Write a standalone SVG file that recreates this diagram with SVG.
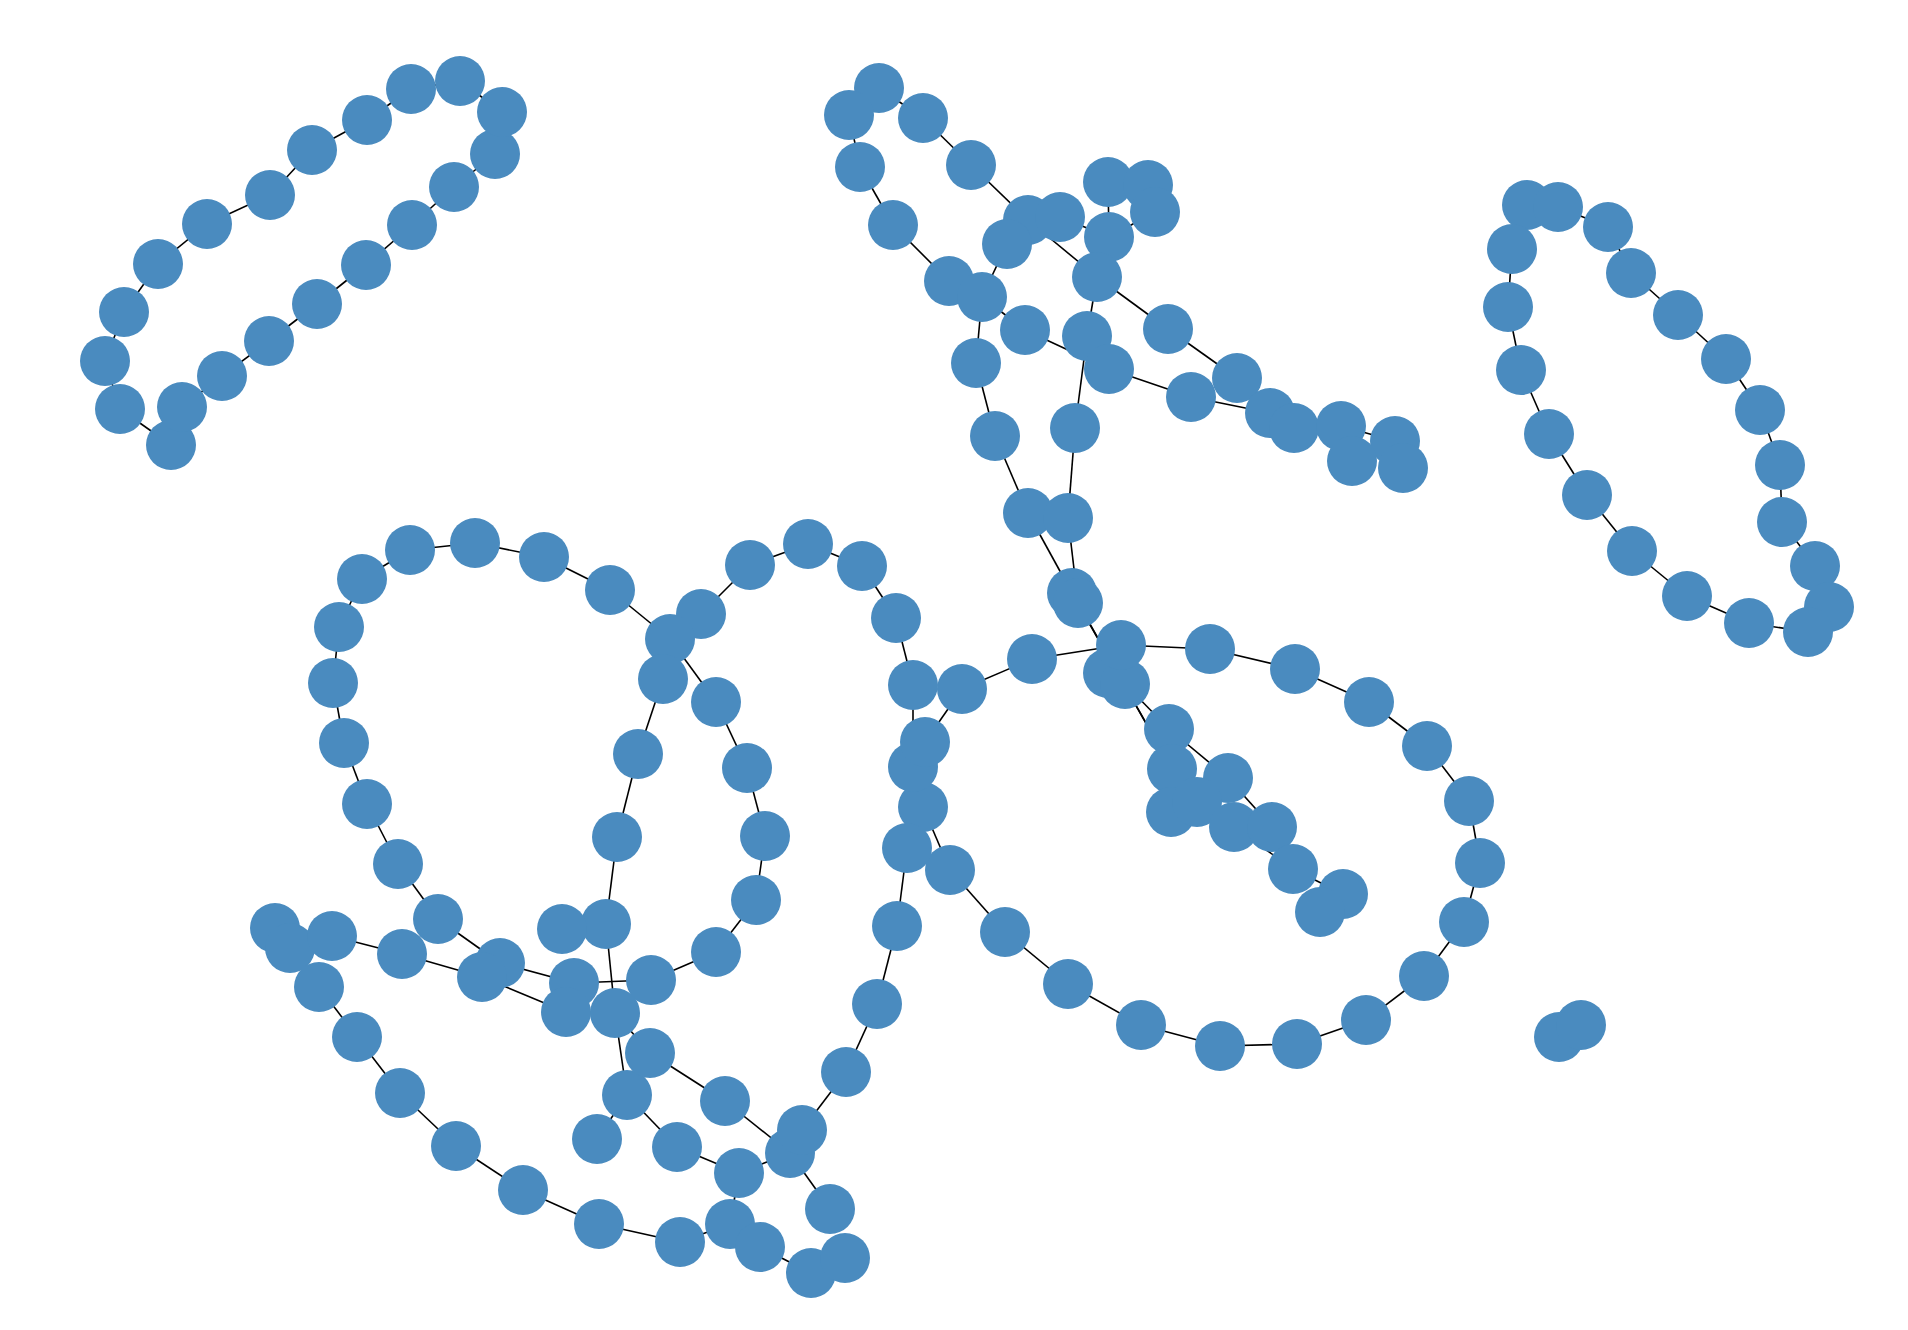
<svg xmlns="http://www.w3.org/2000/svg" width="1908" height="1330" viewBox="0 0 1908 1330">
<style>
.e line{stroke:#000;stroke-width:1.6;stroke-linecap:butt}
.n circle{fill:#4a8bbf}
</style>
<rect width="1908" height="1330" fill="#fff"/>
<g id="edges" class="e">
<line x1="460" y1="81" x2="411" y2="89"/><line x1="411" y1="89" x2="367" y2="120"/><line x1="367" y1="120" x2="312" y2="150"/><line x1="312" y1="150" x2="270" y2="195"/><line x1="270" y1="195" x2="207" y2="224"/><line x1="207" y1="224" x2="158" y2="264"/><line x1="158" y1="264" x2="124" y2="312"/><line x1="124" y1="312" x2="105" y2="361"/><line x1="105" y1="361" x2="120" y2="409"/><line x1="120" y1="409" x2="171" y2="445"/><line x1="171" y1="445" x2="182" y2="407"/><line x1="182" y1="407" x2="222" y2="376"/><line x1="222" y1="376" x2="269" y2="341"/><line x1="269" y1="341" x2="317" y2="304"/><line x1="317" y1="304" x2="366" y2="265"/><line x1="366" y1="265" x2="412" y2="225"/><line x1="412" y1="225" x2="454" y2="187"/><line x1="454" y1="187" x2="495" y2="154"/><line x1="495" y1="154" x2="502" y2="112"/><line x1="502" y1="112" x2="460" y2="81"/>
<line x1="1527" y1="205" x2="1558" y2="207"/><line x1="1558" y1="207" x2="1608" y2="227"/><line x1="1608" y1="227" x2="1631" y2="273"/><line x1="1631" y1="273" x2="1678" y2="315"/><line x1="1678" y1="315" x2="1726" y2="359"/><line x1="1726" y1="359" x2="1760" y2="410"/><line x1="1760" y1="410" x2="1780" y2="465"/><line x1="1780" y1="465" x2="1782" y2="522"/><line x1="1782" y1="522" x2="1815" y2="566"/><line x1="1815" y1="566" x2="1829" y2="607"/><line x1="1829" y1="607" x2="1808" y2="632"/><line x1="1808" y1="632" x2="1749" y2="623"/><line x1="1749" y1="623" x2="1687" y2="596"/><line x1="1687" y1="596" x2="1632" y2="551"/><line x1="1632" y1="551" x2="1587" y2="495"/><line x1="1587" y1="495" x2="1549" y2="434"/><line x1="1549" y1="434" x2="1521" y2="370"/><line x1="1521" y1="370" x2="1508" y2="307"/><line x1="1508" y1="307" x2="1512" y2="249"/><line x1="1512" y1="249" x2="1527" y2="205"/>
<line x1="1559" y1="1037" x2="1581" y2="1025"/>
<line x1="879" y1="88" x2="849" y2="115"/><line x1="879" y1="88" x2="923" y2="118"/><line x1="849" y1="115" x2="860" y2="167"/><line x1="923" y1="118" x2="971" y2="165"/><line x1="860" y1="167" x2="893" y2="225"/><line x1="971" y1="165" x2="1028" y2="220"/><line x1="893" y1="225" x2="949" y2="281"/><line x1="949" y1="281" x2="982" y2="297"/><line x1="1028" y1="220" x2="1060" y2="217"/><line x1="1028" y1="220" x2="1007" y2="244"/><line x1="1007" y1="244" x2="982" y2="297"/><line x1="1028" y1="220" x2="1097" y2="277"/><line x1="1060" y1="217" x2="1109" y2="237"/><line x1="1109" y1="237" x2="1108" y2="182"/><line x1="1108" y1="182" x2="1148" y2="185"/><line x1="1148" y1="185" x2="1155" y2="212"/><line x1="1155" y1="212" x2="1109" y2="237"/><line x1="1109" y1="237" x2="1097" y2="277"/><line x1="1097" y1="277" x2="1168" y2="329"/><line x1="1168" y1="329" x2="1237" y2="378"/><line x1="1097" y1="277" x2="1087" y2="336"/><line x1="1087" y1="336" x2="1109" y2="369"/><line x1="1025" y1="330" x2="1109" y2="369"/><line x1="982" y1="297" x2="1025" y2="330"/><line x1="1109" y1="369" x2="1191" y2="397"/><line x1="1191" y1="397" x2="1270" y2="413"/><line x1="1237" y1="378" x2="1270" y2="413"/><line x1="1270" y1="413" x2="1294" y2="428"/><line x1="1294" y1="428" x2="1341" y2="426"/><line x1="1341" y1="426" x2="1395" y2="441"/><line x1="1395" y1="441" x2="1403" y2="468"/><line x1="1341" y1="426" x2="1352" y2="461"/><line x1="1087" y1="336" x2="1075" y2="428"/><line x1="1075" y1="428" x2="1068" y2="518"/><line x1="982" y1="297" x2="976" y2="363"/><line x1="976" y1="363" x2="995" y2="436"/><line x1="995" y1="436" x2="1028" y2="513"/><line x1="1028" y1="513" x2="1072" y2="593"/><line x1="1068" y1="518" x2="1078" y2="603"/><line x1="1072" y1="593" x2="1078" y2="603"/>
<line x1="1032" y1="659" x2="1121" y2="645"/><line x1="1121" y1="645" x2="1108" y2="673"/><line x1="1108" y1="673" x2="1125" y2="684"/><line x1="1125" y1="684" x2="1169" y2="729"/><line x1="1169" y1="729" x2="1228" y2="778"/><line x1="1169" y1="729" x2="1172" y2="769"/><line x1="1072" y1="593" x2="1172" y2="769"/><line x1="1078" y1="603" x2="1172" y2="769"/><line x1="1172" y1="769" x2="1171" y2="812"/><line x1="1171" y1="812" x2="1197" y2="802"/><line x1="1197" y1="802" x2="1234" y2="827"/><line x1="1228" y1="778" x2="1272" y2="827"/><line x1="1234" y1="827" x2="1272" y2="827"/><line x1="1234" y1="827" x2="1293" y2="869"/><line x1="1293" y1="869" x2="1343" y2="894"/><line x1="1343" y1="894" x2="1320" y2="912"/><line x1="1121" y1="645" x2="1210" y2="649"/><line x1="1210" y1="649" x2="1295" y2="669"/><line x1="1295" y1="669" x2="1369" y2="702"/><line x1="1369" y1="702" x2="1427" y2="746"/>
<line x1="1427" y1="746" x2="1469" y2="801"/><line x1="1469" y1="801" x2="1480" y2="863"/><line x1="1480" y1="863" x2="1464" y2="922"/><line x1="1464" y1="922" x2="1424" y2="976"/><line x1="1424" y1="976" x2="1366" y2="1020"/><line x1="1366" y1="1020" x2="1297" y2="1044"/><line x1="1297" y1="1044" x2="1220" y2="1046"/><line x1="1220" y1="1046" x2="1141" y2="1025"/><line x1="1141" y1="1025" x2="1068" y2="984"/><line x1="1068" y1="984" x2="1005" y2="932"/><line x1="1005" y1="932" x2="950" y2="870"/><line x1="950" y1="870" x2="923" y2="807"/><line x1="923" y1="807" x2="913" y2="767"/><line x1="913" y1="767" x2="925" y2="742"/><line x1="925" y1="742" x2="962" y2="689"/><line x1="962" y1="689" x2="1032" y2="659"/><line x1="913" y1="685" x2="913" y2="767"/><line x1="907" y1="848" x2="923" y2="807"/><line x1="907" y1="848" x2="897" y2="926"/><line x1="913" y1="685" x2="896" y2="618"/>
<line x1="896" y1="618" x2="862" y2="566"/><line x1="862" y1="566" x2="808" y2="544"/><line x1="808" y1="544" x2="750" y2="565"/><line x1="750" y1="565" x2="701" y2="614"/><line x1="701" y1="614" x2="670" y2="639"/><line x1="670" y1="639" x2="610" y2="590"/><line x1="610" y1="590" x2="544" y2="557"/><line x1="544" y1="557" x2="475" y2="543"/><line x1="475" y1="543" x2="410" y2="550"/><line x1="410" y1="550" x2="362" y2="579"/><line x1="362" y1="579" x2="339" y2="627"/><line x1="339" y1="627" x2="333" y2="683"/><line x1="333" y1="683" x2="344" y2="743"/><line x1="344" y1="743" x2="367" y2="804"/><line x1="367" y1="804" x2="398" y2="864"/><line x1="398" y1="864" x2="438" y2="919"/><line x1="438" y1="919" x2="500" y2="963"/><line x1="500" y1="963" x2="574" y2="983"/><line x1="574" y1="983" x2="651" y2="980"/><line x1="651" y1="980" x2="716" y2="952"/><line x1="716" y1="952" x2="756" y2="900"/><line x1="756" y1="900" x2="765" y2="836"/><line x1="765" y1="836" x2="747" y2="768"/><line x1="747" y1="768" x2="716" y2="702"/><line x1="716" y1="702" x2="670" y2="639"/><line x1="670" y1="639" x2="663" y2="679"/><line x1="663" y1="679" x2="638" y2="754"/><line x1="638" y1="754" x2="617" y2="837"/><line x1="617" y1="837" x2="606" y2="924"/><line x1="606" y1="924" x2="562" y2="929"/><line x1="606" y1="924" x2="615" y2="1013"/><line x1="615" y1="1013" x2="566" y2="1012"/><line x1="566" y1="1012" x2="574" y2="983"/><line x1="566" y1="1012" x2="482" y2="977"/><line x1="482" y1="977" x2="500" y2="963"/><line x1="482" y1="977" x2="402" y2="954"/><line x1="402" y1="954" x2="332" y2="936"/><line x1="332" y1="936" x2="290" y2="948"/><line x1="290" y1="948" x2="275" y2="928"/><line x1="290" y1="948" x2="319" y2="987"/><line x1="319" y1="987" x2="357" y2="1037"/><line x1="357" y1="1037" x2="400" y2="1093"/><line x1="400" y1="1093" x2="456" y2="1146"/><line x1="456" y1="1146" x2="523" y2="1190"/><line x1="523" y1="1190" x2="599" y2="1224"/><line x1="599" y1="1224" x2="680" y2="1242"/><line x1="680" y1="1242" x2="730" y2="1224"/><line x1="730" y1="1224" x2="739" y2="1173"/><line x1="730" y1="1224" x2="760" y2="1247"/><line x1="760" y1="1247" x2="811" y2="1273"/><line x1="811" y1="1273" x2="845" y2="1258"/><line x1="739" y1="1173" x2="677" y2="1147"/><line x1="677" y1="1147" x2="627" y2="1095"/><line x1="627" y1="1095" x2="597" y2="1139"/><line x1="627" y1="1095" x2="615" y2="1013"/><line x1="615" y1="1013" x2="650" y2="1053"/><line x1="650" y1="1053" x2="725" y2="1101"/><line x1="725" y1="1101" x2="790" y2="1153"/><line x1="790" y1="1153" x2="739" y2="1173"/><line x1="790" y1="1153" x2="802" y2="1130"/><line x1="802" y1="1130" x2="846" y2="1072"/><line x1="846" y1="1072" x2="877" y2="1004"/><line x1="877" y1="1004" x2="897" y2="926"/><line x1="790" y1="1153" x2="830" y2="1209"/>
</g>
<g class="n">
<g id="a1"><circle cx="460" cy="81" r="25"/></g><g id="a2"><circle cx="411" cy="89" r="25"/></g><g id="a3"><circle cx="367" cy="120" r="25"/></g><g id="a4"><circle cx="312" cy="150" r="25"/></g><g id="a5"><circle cx="270" cy="195" r="25"/></g><g id="a6"><circle cx="207" cy="224" r="25"/></g><g id="a7"><circle cx="158" cy="264" r="25"/></g><g id="a8"><circle cx="124" cy="312" r="25"/></g><g id="a9"><circle cx="105" cy="361" r="25"/></g><g id="a10"><circle cx="120" cy="409" r="25"/></g><g id="a11"><circle cx="171" cy="445" r="25"/></g><g id="a12"><circle cx="182" cy="407" r="25"/></g><g id="a13"><circle cx="222" cy="376" r="25"/></g><g id="a14"><circle cx="269" cy="341" r="25"/></g><g id="a15"><circle cx="317" cy="304" r="25"/></g><g id="a16"><circle cx="366" cy="265" r="25"/></g><g id="a17"><circle cx="412" cy="225" r="25"/></g><g id="a18"><circle cx="454" cy="187" r="25"/></g><g id="a19"><circle cx="495" cy="154" r="25"/></g><g id="a20"><circle cx="502" cy="112" r="25"/></g>
<g id="b1"><circle cx="1527" cy="205" r="25"/></g><g id="b2"><circle cx="1558" cy="207" r="25"/></g><g id="b3"><circle cx="1608" cy="227" r="25"/></g><g id="b4"><circle cx="1631" cy="273" r="25"/></g><g id="b5"><circle cx="1678" cy="315" r="25"/></g><g id="b6"><circle cx="1726" cy="359" r="25"/></g><g id="b7"><circle cx="1760" cy="410" r="25"/></g><g id="b8"><circle cx="1780" cy="465" r="25"/></g><g id="b9"><circle cx="1782" cy="522" r="25"/></g><g id="b10"><circle cx="1815" cy="566" r="25"/></g><g id="b11"><circle cx="1829" cy="607" r="25"/></g><g id="b12"><circle cx="1808" cy="632" r="25"/></g><g id="b13"><circle cx="1749" cy="623" r="25"/></g><g id="b14"><circle cx="1687" cy="596" r="25"/></g><g id="b15"><circle cx="1632" cy="551" r="25"/></g><g id="b16"><circle cx="1587" cy="495" r="25"/></g><g id="b17"><circle cx="1549" cy="434" r="25"/></g><g id="b18"><circle cx="1521" cy="370" r="25"/></g><g id="b19"><circle cx="1508" cy="307" r="25"/></g><g id="b20"><circle cx="1512" cy="249" r="25"/></g>
<g id="p1"><circle cx="1559" cy="1037" r="25"/></g><g id="p2"><circle cx="1581" cy="1025" r="25"/></g>
<g id="t1"><circle cx="879" cy="88" r="25"/></g><g id="t2"><circle cx="849" cy="115" r="25"/></g><g id="t3"><circle cx="923" cy="118" r="25"/></g><g id="t4"><circle cx="860" cy="167" r="25"/></g><g id="t5"><circle cx="971" cy="165" r="25"/></g><g id="t6"><circle cx="893" cy="225" r="25"/></g><g id="t7"><circle cx="1108" cy="182" r="25"/></g><g id="t8"><circle cx="1148" cy="185" r="25"/></g><g id="t9"><circle cx="1155" cy="212" r="25"/></g><g id="t10"><circle cx="1028" cy="220" r="25"/></g><g id="t11"><circle cx="1060" cy="217" r="25"/></g><g id="t12"><circle cx="1007" cy="244" r="25"/></g><g id="t13"><circle cx="1109" cy="237" r="25"/></g><g id="t14"><circle cx="949" cy="281" r="25"/></g><g id="t15"><circle cx="982" cy="297" r="25"/></g><g id="t16"><circle cx="1097" cy="277" r="25"/></g><g id="t17"><circle cx="1025" cy="330" r="25"/></g><g id="t18"><circle cx="1087" cy="336" r="25"/></g><g id="t19"><circle cx="1168" cy="329" r="25"/></g><g id="t20"><circle cx="1109" cy="369" r="25"/></g><g id="t21"><circle cx="976" cy="363" r="25"/></g><g id="t22"><circle cx="1237" cy="378" r="25"/></g><g id="t23"><circle cx="1191" cy="397" r="25"/></g><g id="t24"><circle cx="1270" cy="413" r="25"/></g><g id="t25"><circle cx="1294" cy="428" r="25"/></g><g id="t26"><circle cx="1341" cy="426" r="25"/></g><g id="t27"><circle cx="1395" cy="441" r="25"/></g><g id="t28"><circle cx="1352" cy="461" r="25"/></g><g id="t29"><circle cx="1403" cy="468" r="25"/></g><g id="t30"><circle cx="995" cy="436" r="25"/></g><g id="t31"><circle cx="1075" cy="428" r="25"/></g><g id="t32"><circle cx="1028" cy="513" r="25"/></g><g id="t33"><circle cx="1068" cy="518" r="25"/></g><g id="t34"><circle cx="1072" cy="593" r="25"/></g><g id="t35"><circle cx="1078" cy="603" r="25"/></g>
<g id="c1"><circle cx="1032" cy="659" r="25"/></g><g id="c3"><circle cx="1108" cy="673" r="25"/></g><g id="c4"><circle cx="1125" cy="684" r="25"/></g><g id="c2"><circle cx="1121" cy="645" r="25"/></g><g id="c5"><circle cx="1210" cy="649" r="25"/></g><g id="c6"><circle cx="1295" cy="669" r="25"/></g><g id="c7"><circle cx="1369" cy="702" r="25"/></g><g id="c8"><circle cx="1169" cy="729" r="25"/></g><g id="c9"><circle cx="1172" cy="769" r="25"/></g><g id="c10"><circle cx="1228" cy="778" r="25"/></g><g id="c11"><circle cx="1171" cy="812" r="25"/></g><g id="c12"><circle cx="1197" cy="802" r="25"/></g><g id="c13"><circle cx="1234" cy="827" r="25"/></g><g id="c14"><circle cx="1272" cy="827" r="25"/></g><g id="c15"><circle cx="1293" cy="869" r="25"/></g><g id="c16"><circle cx="1343" cy="894" r="25"/></g><g id="c17"><circle cx="1320" cy="912" r="25"/></g>
<g id="d1"><circle cx="1427" cy="746" r="25"/></g><g id="d2"><circle cx="1469" cy="801" r="25"/></g><g id="d3"><circle cx="1480" cy="863" r="25"/></g><g id="d4"><circle cx="1464" cy="922" r="25"/></g><g id="d5"><circle cx="1424" cy="976" r="25"/></g><g id="d6"><circle cx="1366" cy="1020" r="25"/></g><g id="d7"><circle cx="1297" cy="1044" r="25"/></g><g id="d8"><circle cx="1220" cy="1046" r="25"/></g><g id="d9"><circle cx="1141" cy="1025" r="25"/></g><g id="d10"><circle cx="1068" cy="984" r="25"/></g><g id="d11"><circle cx="1005" cy="932" r="25"/></g><g id="d12"><circle cx="950" cy="870" r="25"/></g><g id="d13"><circle cx="923" cy="807" r="25"/></g><g id="d14"><circle cx="913" cy="767" r="25"/></g><g id="d15"><circle cx="925" cy="742" r="25"/></g><g id="d16"><circle cx="962" cy="689" r="25"/></g><g id="d17"><circle cx="913" cy="685" r="25"/></g><g id="d18"><circle cx="907" cy="848" r="25"/></g><g id="d19"><circle cx="897" cy="926" r="25"/></g>
<g id="f1"><circle cx="896" cy="618" r="25"/></g><g id="f2"><circle cx="862" cy="566" r="25"/></g><g id="f3"><circle cx="808" cy="544" r="25"/></g><g id="f4"><circle cx="750" cy="565" r="25"/></g><g id="f5"><circle cx="701" cy="614" r="25"/></g><g id="f6"><circle cx="670" cy="639" r="25"/></g><g id="f7"><circle cx="610" cy="590" r="25"/></g><g id="f8"><circle cx="544" cy="557" r="25"/></g><g id="f9"><circle cx="475" cy="543" r="25"/></g><g id="f10"><circle cx="410" cy="550" r="25"/></g><g id="f11"><circle cx="362" cy="579" r="25"/></g><g id="f12"><circle cx="339" cy="627" r="25"/></g><g id="f13"><circle cx="333" cy="683" r="25"/></g><g id="f14"><circle cx="344" cy="743" r="25"/></g><g id="f15"><circle cx="367" cy="804" r="25"/></g><g id="f16"><circle cx="398" cy="864" r="25"/></g><g id="f17"><circle cx="438" cy="919" r="25"/></g><g id="f18"><circle cx="500" cy="963" r="25"/></g><g id="f19"><circle cx="574" cy="983" r="25"/></g><g id="f20"><circle cx="651" cy="980" r="25"/></g><g id="f21"><circle cx="716" cy="952" r="25"/></g><g id="f22"><circle cx="756" cy="900" r="25"/></g><g id="f23"><circle cx="765" cy="836" r="25"/></g><g id="f24"><circle cx="747" cy="768" r="25"/></g><g id="f25"><circle cx="716" cy="702" r="25"/></g><g id="f26"><circle cx="663" cy="679" r="25"/></g><g id="f27"><circle cx="638" cy="754" r="25"/></g><g id="f28"><circle cx="617" cy="837" r="25"/></g><g id="f29"><circle cx="606" cy="924" r="25"/></g><g id="f30"><circle cx="562" cy="929" r="25"/></g><g id="f31"><circle cx="615" cy="1013" r="25"/></g><g id="f32"><circle cx="566" cy="1012" r="25"/></g><g id="f33"><circle cx="482" cy="977" r="25"/></g><g id="f34"><circle cx="402" cy="954" r="25"/></g><g id="f37"><circle cx="275" cy="928" r="25"/></g><g id="f36"><circle cx="290" cy="948" r="25"/></g><g id="f35"><circle cx="332" cy="936" r="25"/></g><g id="f38"><circle cx="319" cy="987" r="25"/></g><g id="f39"><circle cx="357" cy="1037" r="25"/></g><g id="f40"><circle cx="400" cy="1093" r="25"/></g><g id="f41"><circle cx="456" cy="1146" r="25"/></g><g id="f42"><circle cx="523" cy="1190" r="25"/></g><g id="f43"><circle cx="599" cy="1224" r="25"/></g><g id="f44"><circle cx="680" cy="1242" r="25"/></g><g id="f45"><circle cx="730" cy="1224" r="25"/></g><g id="f46"><circle cx="739" cy="1173" r="25"/></g><g id="f47"><circle cx="760" cy="1247" r="25"/></g><g id="f48"><circle cx="811" cy="1273" r="25"/></g><g id="f49"><circle cx="845" cy="1258" r="25"/></g><g id="f50"><circle cx="677" cy="1147" r="25"/></g><g id="f51"><circle cx="627" cy="1095" r="25"/></g><g id="f52"><circle cx="597" cy="1139" r="25"/></g><g id="f53"><circle cx="650" cy="1053" r="25"/></g><g id="f54"><circle cx="725" cy="1101" r="25"/></g><g id="f55"><circle cx="790" cy="1153" r="25"/></g><g id="f56"><circle cx="802" cy="1130" r="25"/></g><g id="f57"><circle cx="846" cy="1072" r="25"/></g><g id="f58"><circle cx="877" cy="1004" r="25"/></g><g id="f59"><circle cx="830" cy="1209" r="25"/></g>
</g>
</svg>
